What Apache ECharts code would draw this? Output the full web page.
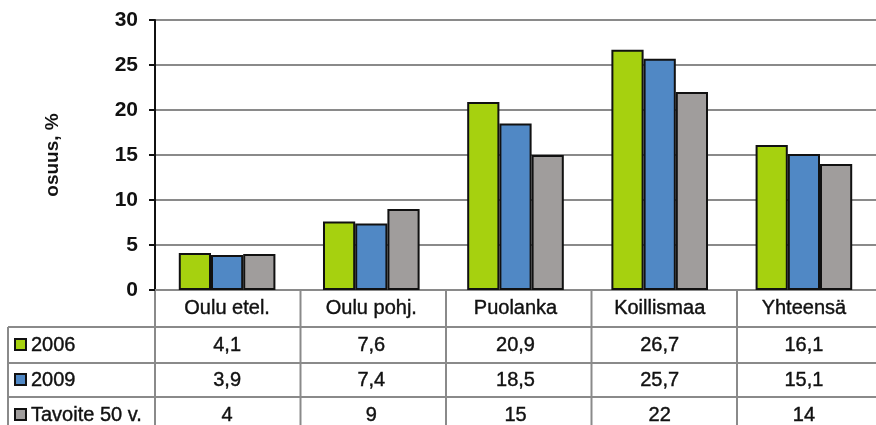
<!DOCTYPE html>
<html>
<head>
<meta charset="utf-8">
<script src="https://cdn.jsdelivr.net/npm/echarts@6/dist/echarts.min.js"></script>
<style>html,body{margin:0;padding:0;background:#fff;}#c{width:876px;height:425px;}</style>
</head>
<body>
<div id="c"></div>
<script>
var categories = ['Oulu etel.', 'Oulu pohj.', 'Puolanka', 'Koillismaa', 'Yhteensä'];
var seriesNames = ['2006', '2009', 'Tavoite 50 v.'];
var values2006 = [4.1, 7.6, 20.9, 26.7, 16.1];
var values2009 = [3.9, 7.4, 18.5, 25.7, 15.1];
var valuesTavoite = [4, 9, 15, 22, 14];
var labels2006 = ['4,1', '7,6', '20,9', '26,7', '16,1'];
var labels2009 = ['3,9', '7,4', '18,5', '25,7', '15,1'];
var labelsTavoite = ['4', '9', '15', '22', '14'];
var colors = ['#a6d10f', '#5088c5', '#a09d9c'];
var yTicks = [0, 5, 10, 15, 20, 25, 30];

var FONT = 'Liberation Sans, Arial, sans-serif';
var TXT = '#111';
var LINE = '#8a8a8a';

var chart = echarts.init(document.getElementById('c'));
var allVals = [values2006, values2009, valuesTavoite];
var gridLeft = 155, gridTop = 20, gridH = 270, gridW = 727.5;

chart.setOption({
  animation: false,
  grid: {left: gridLeft, top: gridTop, width: gridW, height: gridH},
  xAxis: {
    type: 'category', data: categories,
    axisLine: {show: true, lineStyle: {color: LINE, width: 2}},
    axisTick: {show: false}, axisLabel: {show: false}, splitLine: {show: false}
  },
  yAxis: {
    type: 'value', min: yTicks[0], max: yTicks[yTicks.length - 1], interval: 5,
    name: 'osuus, %', nameLocation: 'middle', nameGap: 93, nameRotate: 90,
    nameTextStyle: {fontFamily: FONT, fontWeight: 'bold', fontSize: 19, color: TXT},
    axisLine: {show: true, lineStyle: {color: '#111', width: 2}},
    axisTick: {show: true, length: 6, lineStyle: {color: '#111', width: 2}},
    axisLabel: {fontFamily: FONT, fontWeight: 'bold', fontSize: 21, color: TXT, margin: 17},
    splitLine: {show: true, lineStyle: {color: LINE, width: 2}}
  },
  series: seriesNames.map(function (n, i) {
    return {
      name: n, type: 'bar', data: allVals[i],
      barGap: '0%', barCategoryGap: '33%',
      itemStyle: {color: colors[i], borderColor: '#111', borderWidth: 2}
    };
  })
});

// data table beneath the plot
var rowLabels = [labels2006, labels2009, labelsTavoite];
var hLines = [327, 363, 397];
var rowCenters = [345, 380, 415];
var headerCenter = 308;
var tableTop = 290, tableBottom = 425, tableLeft = 8, W = 876;
var catW = gridW / categories.length;
var g = [];
function txt(x, y, s, align) {
  return {type: 'text', x: x, y: y, style: {text: s, fill: TXT, stroke: TXT, lineWidth: 0.4, font: '20px ' + FONT, align: align, verticalAlign: 'middle'}};
}
hLines.forEach(function (y) {
  g.push({type: 'line', shape: {x1: tableLeft, y1: y, x2: W, y2: y}, style: {stroke: LINE, lineWidth: 2}});
});
g.push({type: 'line', shape: {x1: tableLeft, y1: hLines[0], x2: tableLeft, y2: tableBottom}, style: {stroke: LINE, lineWidth: 2}});
for (var k = 0; k <= categories.length; k++) {
  var x = gridLeft + k * catW;
  g.push({type: 'line', shape: {x1: x, y1: tableTop, x2: x, y2: tableBottom}, style: {stroke: LINE, lineWidth: 2}});
}
categories.forEach(function (c, i) {
  var cx = chart.convertToPixel({xAxisIndex: 0}, c);
  g.push(txt(cx, headerCenter, c, 'center'));
  rowLabels.forEach(function (arr, r) {
    g.push(txt(cx, rowCenters[r], arr[i], 'center'));
  });
});
seriesNames.forEach(function (n, r) {
  g.push({type: 'rect', shape: {x: 15, y: rowCenters[r] - 6, width: 11, height: 11}, style: {fill: colors[r], stroke: '#111', lineWidth: 2}});
  g.push(txt(31, rowCenters[r], n, 'left'));
});
chart.setOption({graphic: g});
</script>
</body>
</html>
